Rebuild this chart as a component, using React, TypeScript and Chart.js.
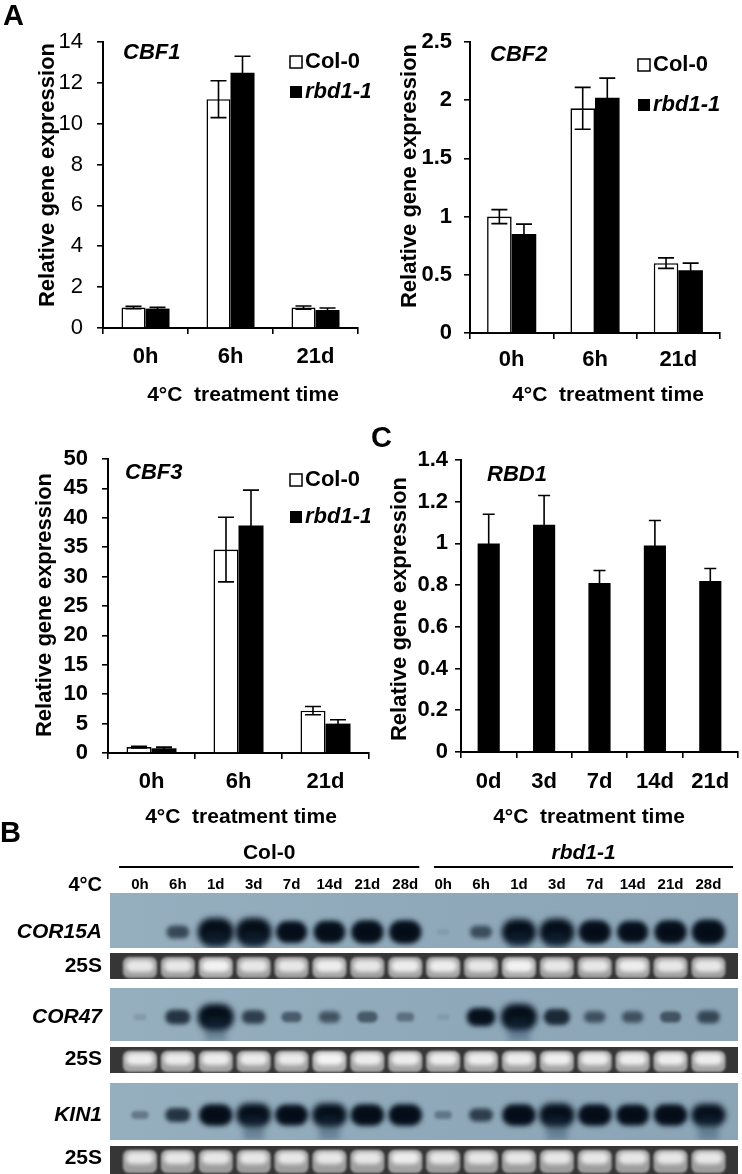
import React, { useEffect, useRef } from 'react';
import { Chart, registerables } from 'chart.js';
Chart.register(...registerables);

const FONT = "'Liberation Sans', Arial, Helvetica, sans-serif";

// ---------------- data ----------------
const seriesNames = ['Col-0', 'rbd1-1'];
const timeCats = ['0h', '6h', '21d'];
const xAxisTitle = '4°C  treatment time';
const yAxisTitle = 'Relative gene expression';

const cbf1Col = [1.0, 11.2, 1.0];
const cbf1ColErr = [0.06, 0.9, 0.08];
const cbf1Rbd = [0.95, 12.5, 0.88];
const cbf1RbdErr = [0.06, 0.8, 0.1];

const cbf2Col = [1.0, 1.93, 0.6];
const cbf2ColErr = [0.06, 0.18, 0.045];
const cbf2Rbd = [0.85, 2.02, 0.54];
const cbf2RbdErr = [0.085, 0.17, 0.06];

const cbf3Col = [1.0, 34.6, 7.2];
const cbf3ColErr = [0.15, 5.5, 0.7];
const cbf3Rbd = [0.8, 38.7, 5.0];
const cbf3RbdErr = [0.2, 6.0, 0.65];

const rbdCats = ['0d', '3d', '7d', '14d', '21d'];
const rbd1Vals = [1.0, 1.09, 0.81, 0.99, 0.82];
const rbd1Err = [0.14, 0.14, 0.06, 0.12, 0.06];

// northern blot (band intensity 0..1)
const laneLabels = ['0h', '6h', '1d', '3d', '7d', '14d', '21d', '28d', '0h', '6h', '1d', '3d', '7d', '14d', '21d', '28d'];
const blotRowNames = ['COR15A', '25S', 'COR47', '25S', 'KIN1', '25S'];
const cor15a = [0.0, 0.45, 1.0, 1.0, 0.8, 0.82, 0.85, 0.85, 0.02, 0.42, 0.92, 0.95, 0.85, 0.8, 0.85, 0.9];
const rrna1 = [0.85, 0.85, 0.95, 0.85, 0.85, 0.9, 0.85, 0.9, 0.9, 0.85, 0.95, 0.85, 0.85, 0.9, 0.85, 0.85];
const cor47 = [0.05, 0.55, 1.0, 0.5, 0.35, 0.4, 0.36, 0.25, 0.03, 0.7, 1.0, 0.6, 0.4, 0.4, 0.38, 0.45];
const rrna2 = [0.9, 0.88, 0.9, 0.88, 0.88, 0.98, 0.9, 0.9, 0.9, 0.9, 0.9, 0.92, 0.9, 0.9, 0.9, 0.9];
const kin1 = [0.22, 0.55, 0.9, 0.95, 0.88, 0.95, 0.9, 0.9, 0.22, 0.5, 0.9, 0.97, 0.9, 0.88, 0.9, 0.92];
const rrna3 = [0.85, 0.85, 0.85, 0.85, 0.85, 0.85, 0.85, 0.9, 0.85, 0.85, 0.85, 0.85, 0.85, 0.85, 0.85, 0.85];
const blotValues = [cor15a, rrna1, cor47, rrna2, kin1, rrna3];

// ---------------- layout ----------------
const rowLayout = [
  { top: 0, bottom: 55, band: 39, kind: 'blot', hmax: 28 },
  { top: 60, bottom: 86, band: 73, kind: 'rrna', hmax: 0 },
  { top: 95, bottom: 148, band: 124, kind: 'blot', hmax: 26 },
  { top: 154, bottom: 180, band: 166, kind: 'rrna', hmax: 0 },
  { top: 190, bottom: 247, band: 222, kind: 'blot', hmax: 24 },
  { top: 253, bottom: 281, band: 265, kind: 'rrna', hmax: 0 },
];

type Annot = {
  letter?: { text: string; x: number; y: number };
  gene: { text: string; x: number; y: number };
  legend?: { x: number; y1: number; y2: number };
  xTitle: { x: number; y: number };
  yTitle: { x: number; y: number };
};

const fmt = (v: number) => String(Math.round(v * 1000) / 1000);

function errorBarPlugin(cap: number) {
  return {
    id: 'errbars',
    afterDatasetsDraw(chart: any) {
      const ctx = chart.ctx;
      const y = chart.scales.y;
      chart.data.datasets.forEach((ds: any, i: number) => {
        const errs: number[] = ds.errors;
        if (!errs) return;
        const meta = chart.getDatasetMeta(i);
        meta.data.forEach((el: any, j: number) => {
          const v = ds.data[j];
          const e = errs[j];
          const yt = y.getPixelForValue(v + e);
          const yb = y.getPixelForValue(v - e);
          const x = el.x;
          ctx.save();
          ctx.strokeStyle = '#000';
          ctx.lineWidth = 1.6;
          ctx.beginPath();
          ctx.moveTo(x, yt);
          ctx.lineTo(x, yb);
          ctx.moveTo(x - cap, yt);
          ctx.lineTo(x + cap, yt);
          ctx.moveTo(x - cap, yb);
          ctx.lineTo(x + cap, yb);
          ctx.stroke();
          ctx.restore();
        });
      });
    },
  };
}

function annotPlugin(a: Annot) {
  return {
    id: 'annot',
    afterDraw(chart: any) {
      const ctx = chart.ctx;
      ctx.save();
      ctx.fillStyle = '#000';
      ctx.textBaseline = 'middle';
      if (a.letter) {
        ctx.font = `bold 29px ${FONT}`;
        ctx.textAlign = 'left';
        ctx.fillText(a.letter.text, a.letter.x, a.letter.y);
      }
      ctx.font = `italic bold 22px ${FONT}`;
      ctx.textAlign = 'left';
      ctx.fillText(a.gene.text, a.gene.x, a.gene.y);
      if (a.legend) {
        const { x, y1, y2 } = a.legend;
        const s = 12;
        ctx.fillStyle = '#fff';
        ctx.fillRect(x, y1 - s / 2, s, s);
        ctx.strokeStyle = '#000';
        ctx.lineWidth = 1.5;
        ctx.strokeRect(x, y1 - s / 2, s, s);
        ctx.fillStyle = '#000';
        ctx.fillRect(x, y2 - s / 2, s, s);
        ctx.font = `bold 22px ${FONT}`;
        ctx.fillText(seriesNames[0], x + s + 3, y1);
        ctx.font = `italic bold 22px ${FONT}`;
        ctx.fillText(seriesNames[1], x + s + 3, y2);
      }
      ctx.font = `bold 21px ${FONT}`;
      ctx.textAlign = 'center';
      ctx.fillText(xAxisTitle, a.xTitle.x, a.xTitle.y);
      ctx.translate(a.yTitle.x, a.yTitle.y);
      ctx.rotate(-Math.PI / 2);
      ctx.font = `bold 22px ${FONT}`;
      ctx.fillText(yAxisTitle, 0, 0);
      ctx.restore();
    },
  };
}

type Series = { label: string; values: number[]; errors: number[]; fill: string };
type BarSpec = {
  width: number;
  height: number;
  area: { left: number; top: number; right: number; bottom: number };
  labels: string[];
  series: Series[];
  yMax: number;
  step: number;
  tickBold: boolean;
  yPad: number;
  xPad: number;
  catPct: number;
  cap: number;
  annot: Annot;
};

function barConfig(spec: BarSpec): any {
  return {
    type: 'bar',
    data: {
      labels: spec.labels,
      datasets: spec.series.map((s) => ({
        label: s.label,
        data: s.values,
        errors: s.errors,
        backgroundColor: s.fill,
        borderColor: '#000',
        borderWidth: s.fill === '#ffffff' ? 1.6 : 0,
        categoryPercentage: spec.catPct,
        barPercentage: 1,
      })),
    },
    options: {
      responsive: false,
      animation: false,
      devicePixelRatio: 1,
      events: [],
      layout: { padding: { top: spec.area.top, right: spec.width - spec.area.right, left: 0, bottom: 0 } },
      plugins: { legend: { display: false }, tooltip: { enabled: false } },
      scales: {
        x: {
          grid: { display: true, drawOnChartArea: false, drawTicks: true, tickLength: 6, color: '#000', lineWidth: 1.6 },
          border: { display: true, color: '#000', width: 2 },
          ticks: {
            color: '#000',
            font: { family: FONT, size: 22, weight: 'bold' },
            padding: spec.xPad,
            maxRotation: 0,
            autoSkip: false,
          },
          afterFit: (s: any) => {
            s.height = spec.height - spec.area.bottom;
          },
        },
        y: {
          min: 0,
          max: spec.yMax,
          grid: { display: true, drawOnChartArea: false, drawTicks: true, tickLength: 6, color: '#000', lineWidth: 1.6 },
          border: { display: true, color: '#000', width: 2 },
          ticks: {
            stepSize: spec.step,
            color: '#000',
            font: { family: FONT, size: 22, weight: spec.tickBold ? 'bold' : 'normal' },
            padding: spec.yPad,
            callback: (v: number) => fmt(v),
          },
          afterFit: (s: any) => {
            s.width = spec.area.left;
          },
        },
      },
    },
    plugins: [errorBarPlugin(spec.cap), annotPlugin(spec.annot)],
  };
}

const WHITE = '#ffffff';
const BLACK = '#000000';

const cbf1Spec: BarSpec = {
  width: 370,
  height: 410,
  area: { left: 103, top: 42, right: 358, bottom: 328 },
  labels: timeCats,
  series: [
    { label: seriesNames[0], values: cbf1Col, errors: cbf1ColErr, fill: WHITE },
    { label: seriesNames[1], values: cbf1Rbd, errors: cbf1RbdErr, fill: BLACK },
  ],
  yMax: 14,
  step: 2,
  tickBold: false,
  yPad: 14,
  xPad: 10,
  catPct: 0.565,
  cap: 8,
  annot: {
    letter: { text: 'A', x: 3, y: 17 },
    gene: { text: 'CBF1', x: 123, y: 53 },
    legend: { x: 290, y1: 62, y2: 92 },
    xTitle: { x: 243, y: 395 },
    yTitle: { x: 48, y: 175 },
  },
};

const cbf2Spec: BarSpec = {
  width: 372,
  height: 410,
  area: { left: 100, top: 42, right: 350, bottom: 333 },
  labels: timeCats,
  series: [
    { label: seriesNames[0], values: cbf2Col, errors: cbf2ColErr, fill: WHITE },
    { label: seriesNames[1], values: cbf2Rbd, errors: cbf2RbdErr, fill: BLACK },
  ],
  yMax: 2.5,
  step: 0.5,
  tickBold: true,
  yPad: 12,
  xPad: 8,
  catPct: 0.59,
  cap: 8,
  annot: {
    gene: { text: 'CBF2', x: 120, y: 55 },
    legend: { x: 268, y1: 65, y2: 105 },
    xTitle: { x: 238, y: 395 },
    yTitle: { x: 40, y: 176 },
  },
};

// bottom row canvases start at y=416
const cbf3Spec: BarSpec = {
  width: 370,
  height: 414,
  area: { left: 108, top: 43, right: 369, bottom: 337 },
  labels: timeCats,
  series: [
    { label: seriesNames[0], values: cbf3Col, errors: cbf3ColErr, fill: WHITE },
    { label: seriesNames[1], values: cbf3Rbd, errors: cbf3RbdErr, fill: BLACK },
  ],
  yMax: 50,
  step: 5,
  tickBold: true,
  yPad: 14,
  xPad: 10,
  catPct: 0.575,
  cap: 8,
  annot: {
    gene: { text: 'CBF3', x: 125, y: 57 },
    legend: { x: 290, y1: 64, y2: 101 },
    xTitle: { x: 241, y: 401 },
    yTitle: { x: 45, y: 189 },
  },
};

const rbd1Spec: BarSpec = {
  width: 372,
  height: 414,
  area: { left: 91, top: 44, right: 368, bottom: 336 },
  labels: rbdCats,
  series: [{ label: 'RBD1', values: rbd1Vals, errors: rbd1Err, fill: BLACK }],
  yMax: 1.4,
  step: 0.2,
  tickBold: true,
  yPad: 7,
  xPad: 11,
  catPct: 0.4,
  cap: 6,
  annot: {
    letter: { text: 'C', x: 1, y: 23 },
    gene: { text: 'RBD1', x: 117, y: 59 },
    xTitle: { x: 219, y: 401 },
    yTitle: { x: 30, y: 193 },
  },
};

// ---------------- blot ----------------
function rr(ctx: CanvasRenderingContext2D, x: number, y: number, w: number, h: number, r: number) {
  const rad = Math.max(0, Math.min(r, w / 2, h / 2));
  ctx.beginPath();
  ctx.moveTo(x + rad, y);
  ctx.lineTo(x + w - rad, y);
  ctx.arcTo(x + w, y, x + w, y + rad, rad);
  ctx.lineTo(x + w, y + h - rad);
  ctx.arcTo(x + w, y + h, x + w - rad, y + h, rad);
  ctx.lineTo(x + rad, y + h);
  ctx.arcTo(x, y + h, x, y + h - rad, rad);
  ctx.lineTo(x, y + rad);
  ctx.arcTo(x, y, x + rad, y, rad);
  ctx.closePath();
}

const blotPlugin = {
  id: 'blot',
  beforeDatasetsDraw(chart: any) {
    const { ctx, chartArea: ca, scales } = chart;
    const y = scales.y;
    rowLayout.forEach((r, ri) => {
      const t = y.getPixelForValue(r.top);
      const b = y.getPixelForValue(r.bottom);
      const ds = chart.data.datasets[ri];
      const meta = chart.getDatasetMeta(ri);
      ctx.save();
      ctx.beginPath();
      ctx.rect(ca.left, t, ca.right - ca.left, b - t);
      ctx.clip();
      if (r.kind === 'blot') {
        const g = ctx.createLinearGradient(ca.left, 0, ca.right, 0);
        g.addColorStop(0, '#96afbf');
        g.addColorStop(0.5, '#8fa9ba');
        g.addColorStop(1, '#8ba5b7');
        ctx.fillStyle = g;
        ctx.fillRect(ca.left, t, ca.right - ca.left, b - t);
        meta.data.forEach((pt: any, j: number) => {
          const v = ds.data[j].v;
          if (v < 0.01) return;
          const w = 12 + 24 * v;
          const h = 6 + (r.hmax - 6) * Math.pow(v, 1.4);
          ctx.save();
          ctx.filter = `blur(${1.1 + 2 * v}px)`;
          ctx.fillStyle = `rgba(8,20,34,${Math.min(1, 0.05 + 1.35 * v)})`;
          rr(ctx, pt.x - w / 2, pt.y - h / 2, w, h, h / 2);
          ctx.fill();
          if (v > 0.6) {
            ctx.fillStyle = `rgba(0,5,10,${0.5 * v})`;
            rr(ctx, pt.x - w * 0.38, pt.y - h * 0.32, w * 0.76, h * 0.64, h * 0.3);
            ctx.fill();
          }
          if (v > 0.9) {
            ctx.fillStyle = 'rgba(30,55,80,0.35)';
            ctx.fillRect(pt.x - w * 0.3, pt.y, w * 0.6, b - pt.y);
          }
          ctx.restore();
        });
      } else {
        ctx.fillStyle = '#363636';
        ctx.fillRect(ca.left, t, ca.right - ca.left, b - t);
        meta.data.forEach((pt: any, j: number) => {
          const v = ds.data[j].v;
          ctx.save();
          ctx.filter = 'blur(1px)';
          ctx.fillStyle = `rgba(175,175,175,${v})`;
          rr(ctx, pt.x - 17, t + 4, 34, b - t - 5, 6);
          ctx.fill();
          ctx.filter = 'blur(2px)';
          ctx.fillStyle = `rgba(245,245,245,${v})`;
          rr(ctx, pt.x - 14, pt.y - 6, 28, 12, 6);
          ctx.fill();
          ctx.restore();
        });
      }
      ctx.restore();
    });
  },
  afterDraw(chart: any) {
    const { ctx, scales } = chart;
    const x = scales.x;
    const y = scales.y;
    ctx.save();
    ctx.fillStyle = '#000';
    ctx.strokeStyle = '#000';
    ctx.textBaseline = 'middle';
    ctx.font = `bold 29px ${FONT}`;
    ctx.textAlign = 'left';
    ctx.fillText('B', 0, 34);
    const groups = [
      { name: seriesNames[0], from: -0.55, to: 7.37, italic: false },
      { name: seriesNames[1], from: 7.76, to: 15.65, italic: true },
    ];
    groups.forEach((g) => {
      const x0 = x.getPixelForValue(g.from);
      const x1 = x.getPixelForValue(g.to);
      ctx.lineWidth = 2;
      ctx.beginPath();
      ctx.moveTo(x0, 67);
      ctx.lineTo(x1, 67);
      ctx.stroke();
      ctx.font = `${g.italic ? 'italic ' : ''}bold 21px ${FONT}`;
      ctx.textAlign = 'center';
      ctx.fillText(g.name, (x0 + x1) / 2, 53);
    });
    ctx.font = `bold 20px ${FONT}`;
    ctx.textAlign = 'right';
    ctx.fillText('4°C', 102, 85);
    ctx.font = `bold 15px ${FONT}`;
    ctx.textAlign = 'center';
    laneLabels.forEach((l, i) => ctx.fillText(l, x.getPixelForValue(i), 85));
    ctx.textAlign = 'right';
    rowLayout.forEach((r, ri) => {
      ctx.font = `${r.kind === 'blot' ? 'italic ' : ''}bold 21px ${FONT}`;
      ctx.fillText(blotRowNames[ri], 102, y.getPixelForValue(r.band));
    });
    ctx.restore();
  },
};

function blotConfig(): any {
  return {
    type: 'scatter',
    data: {
      datasets: blotValues.map((vals, ri) => ({
        label: blotRowNames[ri],
        data: vals.map((v, i) => ({ x: i, y: rowLayout[ri].band, v })),
        pointRadius: 0,
        pointHoverRadius: 0,
        showLine: false,
      })),
    },
    options: {
      responsive: false,
      animation: false,
      devicePixelRatio: 1,
      events: [],
      layout: { padding: { top: 93, left: 110, right: 4, bottom: 0 } },
      plugins: { legend: { display: false }, tooltip: { enabled: false } },
      scales: {
        x: { type: 'linear', min: -0.79, max: 15.78, display: false },
        y: { type: 'linear', min: 0, max: 281, reverse: true, display: false },
      },
    },
    plugins: [blotPlugin],
  };
}

function ChartCanvas(props: { left: number; top: number; width: number; height: number; make: () => any }) {
  const ref = useRef<HTMLCanvasElement>(null);
  useEffect(() => {
    const chart = new Chart(ref.current as HTMLCanvasElement, props.make());
    return () => chart.destroy();
  }, []);
  return (
    <canvas
      ref={ref}
      width={props.width}
      height={props.height}
      style={{ position: 'absolute', left: props.left, top: props.top, width: props.width, height: props.height }}
    />
  );
}

export default function App() {
  return (
    <div style={{ position: 'absolute', left: 0, top: 0, width: 742, height: 1174, background: '#fff', overflow: 'hidden' }}>
      <ChartCanvas left={0} top={0} width={370} height={410} make={() => barConfig(cbf1Spec)} />
      <ChartCanvas left={370} top={0} width={372} height={410} make={() => barConfig(cbf2Spec)} />
      <ChartCanvas left={0} top={416} width={370} height={414} make={() => barConfig(cbf3Spec)} />
      <ChartCanvas left={370} top={416} width={372} height={414} make={() => barConfig(rbd1Spec)} />
      <ChartCanvas left={0} top={800} width={742} height={374} make={blotConfig} />
    </div>
  );
}
